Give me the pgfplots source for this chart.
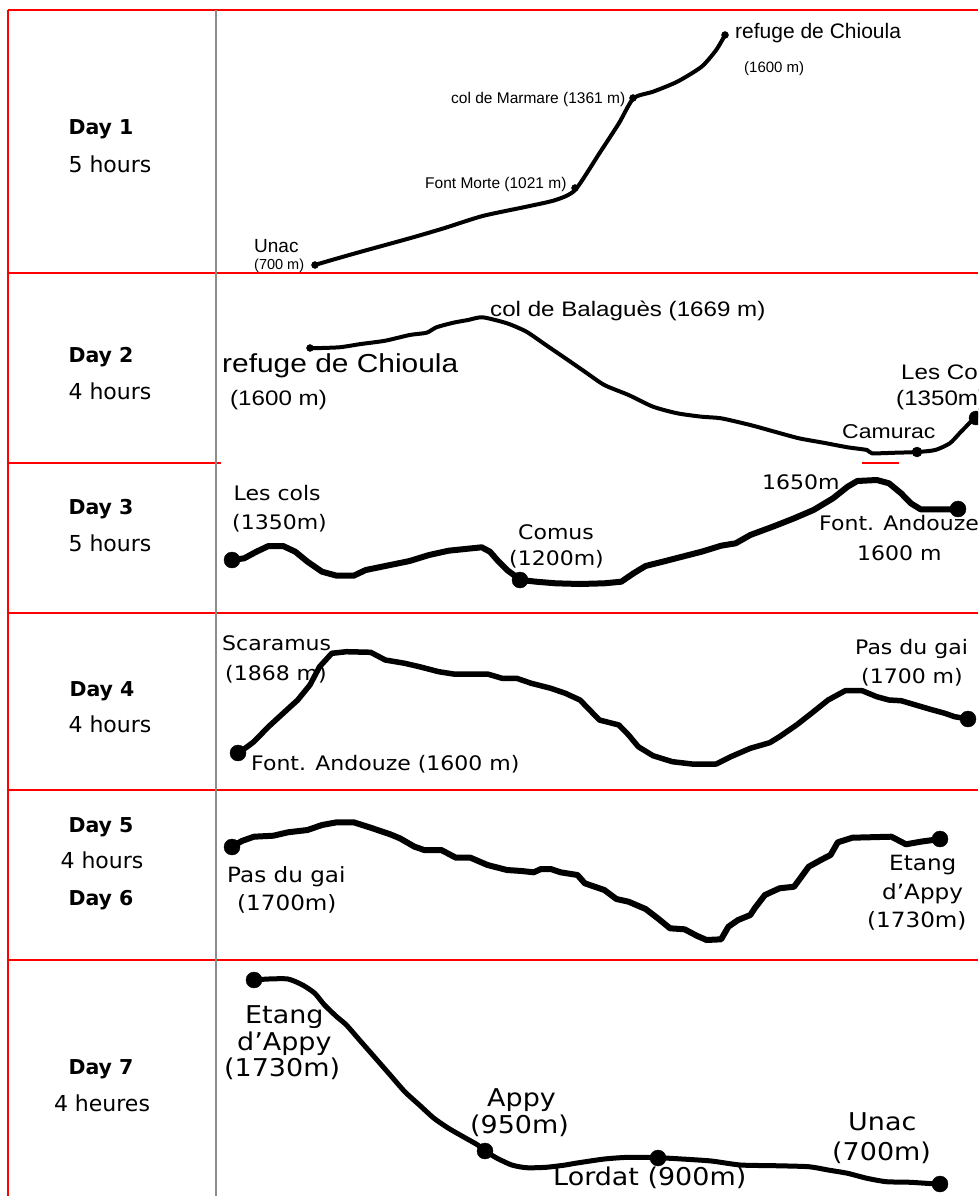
\documentclass[border=0pt]{standalone}
\usepackage{fontspec}
\setmainfont{DejaVu Sans}
\newfontfamily\lab[FakeStretch=1.1]{DejaVu Sans}
\newfontfamily\arl{Liberation Sans}
\newfontfamily\arlw[FakeStretch=1.15]{Liberation Sans}
\usepackage{pgfplots}
\pgfplotsset{compat=1.18}
\newcommand\fs[1]{\fontsize{#1}{#1}\selectfont}

\begin{document}
\begin{tikzpicture}
\useasboundingbox (0,0) rectangle (978pt,1196pt);
\clip (0,0) rectangle (978pt,1196pt);
\begin{axis}[at={(0,0)}, anchor=south west, scale only axis,
    width=978pt, height=1196pt,
    xmin=0, xmax=978, ymin=0, ymax=1196, y dir=reverse,
    hide axis, clip=false,
    every axis plot/.append style={black, line join=round, line cap=round},
    nodes={inner sep=0pt}]

% table rules
\draw[red, line width=1.6pt] (8,10) -- (978,10);
\draw[red, line width=1.6pt] (8,10) -- (8,1196);
\draw[red, line width=1.6pt] (8,273) -- (978,273);
\draw[red, line width=1.6pt] (8,463) -- (221,463);
\draw[red, line width=1.6pt] (862,463) -- (899,463);
\draw[red, line width=1.6pt] (8,613) -- (978,613);
\draw[red, line width=1.6pt] (8,790) -- (978,790);
\draw[red, line width=1.6pt] (8,960) -- (978,960);
\draw[black!45, line width=1.6pt] (216,10) -- (216,1196);

% left column
\node[anchor=base, font=\fs{20.5}\bfseries] at (101,135) {Day 1};
\node[anchor=base, font=\fs{22}] at (110,172) {5 hours};
\node[anchor=base, font=\fs{20.5}\bfseries] at (101,362) {Day 2};
\node[anchor=base, font=\fs{22}] at (110,399) {4 hours};
\node[anchor=base, font=\fs{20.5}\bfseries] at (101,514) {Day 3};
\node[anchor=base, font=\fs{22}] at (110,551) {5 hours};
\node[anchor=base, font=\fs{20.5}\bfseries] at (102,696) {Day 4};
\node[anchor=base, font=\fs{22}] at (110,732) {4 hours};
\node[anchor=base, font=\fs{20.5}\bfseries] at (101,832) {Day 5};
\node[anchor=base, font=\fs{22}] at (102,868) {4 hours};
\node[anchor=base, font=\fs{20.5}\bfseries] at (101,905) {Day 6};
\node[anchor=base, font=\fs{20.5}\bfseries] at (101,1074) {Day 7};
\node[anchor=base, font=\fs{22}] at (102,1111) {4 heures};

% Day 1
\addplot[line width=4pt, smooth, tension=0.4] coordinates {
(314.8,265) (331.8,260) (361,251.7) (409.6,238.3) (443.7,228.3) (482.6,216)
(526.4,206.7) (555.6,200) (575.1,190) (599.4,153.3) (618.9,123.3) (633.5,98.3)
(653,91.7) (677.3,81.7) (701.6,66.7) (716.2,50) (725,35)};
\addplot[only marks, mark=*, mark size=3.5pt] coordinates {(315,265) (575,188) (633,98) (725,35)};
\node[anchor=base west, font=\arl\fs{21}] at (735,38.5) {refuge de Chioula};
\node[anchor=base west, font=\arl\fs{15}] at (744,73) {(1600 m)};
\node[anchor=base west, font=\arl\fs{15.5}] at (451,103.5) {col de Marmare (1361 m)};
\node[anchor=base west, font=\arl\fs{15.5}] at (425,188.5) {Font Morte (1021 m)};
\node[anchor=base west, font=\arl\fs{19}] at (254,252) {Unac};
\node[anchor=base west, font=\arl\fs{14.5}] at (254,269) {(700 m)};

% Day 2
\addplot[line width=4pt, smooth, tension=0.4] coordinates {
(309.9,348.3) (339.1,347.3) (361,344) (385.3,340.7) (409.6,335) (426.7,332.7)
(436.4,327.3) (453.4,322.7) (468,320) (482.6,317.3) (507,323.3) (526.4,331.7)
(545.9,345) (565.4,358.3) (584.8,371.7) (604.3,385) (628.6,395) (653,406.7)
(677.3,413.3) (701.6,416.7) (721.1,418.3) (750.3,425) (774.6,431.7) (799,438.3)
(823.3,442.7) (847.6,447.3) (867,450) (872,453.3) (896.2,452.7) (917.2,452)
(935.2,450) (949.8,443.3) (959.5,433.3) (969.2,423.3) (978,415)};
\addplot[only marks, mark=*, mark size=3.5pt] coordinates {(310,348)};
\addplot[only marks, mark=*, mark size=5pt] coordinates {(917,452)};
\addplot[only marks, mark=*, mark size=7pt] coordinates {(976,418)};
\node[anchor=base west, font=\arlw\fs{21}] at (490,316.5) {col de Balaguès (1669 m)};
\node[anchor=base west, font=\arlw\fs{26}] at (222,372) {refuge de Chioula};
\node[anchor=base west, font=\arlw\fs{21}] at (230,405.5) {(1600 m)};
\node[anchor=base west, font=\arlw\fs{21}] at (901,379.5) {Les Cols};
\node[anchor=base west, font=\arlw\fs{21}] at (896,405.5) {(1350m)};
\node[anchor=base west, font=\arlw\fs{20}] at (842,438) {Camurac};

% Day 3
\addplot[line width=6pt] coordinates {
(232,560) (244.2,558.3) (256.4,551.7) (268.5,546) (283.1,546) (295.3,551.7)
(307.5,561.7) (322,571.7) (336.7,575.7) (353.7,575.7) (365.8,570) (385.3,566)
(409.6,561) (429.1,555) (448.6,550.7) (468,548.7) (481.7,547.3) (490,551.7)
(497.2,560) (507,570) (520.6,580) (536.2,581.7) (555.6,583.3) (580,584)
(604.3,583.3) (621.3,581.7) (633.5,573.3) (645.6,566) (662.7,561.7) (682.1,556.7)
(701.6,551.7) (721.1,545.7) (735.7,543.3) (750.3,535) (774.6,526) (794.1,518.3)
(813.5,510) (833,498.3) (847.6,486.7) (857.3,481) (876.8,480) (889,483.3)
(901.1,493.3) (910.8,503.3) (920.6,509.3) (940,509.3) (958.5,509.3)};
\addplot[only marks, mark=*, mark size=8pt] coordinates {(232,560) (520,580) (958,509)};
\node[anchor=base west, font=\lab\fs{20}] at (233.5,500.5) {Les cols};
\node[anchor=base west, font=\lab\fs{20}] at (232,529.5) {(1350m)};
\node[anchor=base west, font=\lab\fs{20}] at (518,539.5) {Comus};
\node[anchor=base west, font=\lab\fs{20}] at (509,565.5) {(1200m)};
\node[anchor=base west, font=\lab\fs{20}] at (762,489.5) {1650m};
\node[anchor=base west, font=\lab\fs{20}] at (819,530.5) {Font. Andouze};
\node[anchor=base west, font=\lab\fs{20}] at (857,560.5) {1600 m};

% Day 4
\addplot[line width=5.5pt] coordinates {
(238.4,753.3) (253.9,741.7) (268.5,726.7) (283.1,713.3) (297.7,700) (309.9,685)
(319.6,666.7) (331.8,653.3) (346.4,651.7) (370.7,652.3) (385.3,660) (404.8,663.3)
(419.4,666.7) (438.8,671.7) (453.4,674) (487.5,674) (502.1,678.3) (516.7,678.3)
(531.3,683.3) (550.8,688.3) (565.4,693.3) (580,700) (589.7,710) (599.4,720)
(618.9,725) (628.6,735) (638.3,746.7) (653,755.7) (672.4,761.7) (691.9,764)
(716.2,764) (730.8,756.7) (750.3,748.3) (769.7,742.7) (779.5,736.7) (796.5,725)
(813.5,711.7) (828.1,700) (845.2,690.7) (862.2,690.7) (876.8,696.7) (889,700)
(901.1,700.7) (915.7,705) (930.3,709.3) (944.9,713.3) (954.6,716.7) (968.3,719)};
\addplot[only marks, mark=*, mark size=8pt] coordinates {(238,753) (968,719)};
\node[anchor=base west, font=\lab\fs{20}] at (222,650.5) {Scaramus};
\node[anchor=base west, font=\lab\fs{20}] at (225,680.5) {(1868 m)};
\node[anchor=base west, font=\lab\fs{20}] at (251,770.5) {Font. Andouze (1600 m)};
\node[anchor=base west, font=\lab\fs{20}] at (855,654.5) {Pas du gai};
\node[anchor=base west, font=\lab\fs{20}] at (861,683.5) {(1700 m)};

% Day 5 / 6
\addplot[line width=6pt] coordinates {
(232,846.7) (241.8,841) (253.9,836.7) (273.4,835.7) (288,832.3) (307.5,830)
(322,825) (336.7,822.3) (353.7,822.3) (370.7,827.7) (390.2,834.3) (399.9,838.3)
(414.5,846.7) (424.2,850) (441.3,850) (455.9,857.7) (470.5,857.7) (487.5,865)
(507,870) (521.6,871) (533.7,872.3) (541,869) (550.8,869) (560.5,872.3)
(577.5,875) (584.8,883.3) (604.3,890) (616.4,899) (628.6,901.7) (645.6,909)
(657.8,918.3) (670,928.3) (684.6,929.3) (696.7,935.7) (706.5,940) (721.1,939.3)
(728.4,926.7) (738.1,920) (750.3,915) (755.1,907.7) (764.9,895) (779.5,888.3)
(794.1,886.7) (801.4,876.7) (808.7,866.7) (820.8,860) (830.5,855) (837.8,842.3)
(852.4,837.7) (891.4,836.7) (906,844.3) (920.6,841.7) (940,839)};
\addplot[only marks, mark=*, mark size=8pt] coordinates {(232,847) (940,839)};
\node[anchor=base west, font=\lab\fs{21}] at (227,882.5) {Pas du gai};
\node[anchor=base west, font=\lab\fs{21}] at (237,910.5) {(1700m)};
\node[anchor=base west, font=\lab\fs{21}] at (889,870.5) {Etang};
\node[anchor=base west, font=\lab\fs{21}] at (882,899.5) {d’Appy};
\node[anchor=base west, font=\lab\fs{21}] at (867,927.5) {(1730m)};

% Day 7
\addplot[line width=5pt, smooth, tension=0.4] coordinates {
(253.9,980) (268.5,979) (288,979) (302.6,985) (314.8,993.3) (324.5,1005)
(336.7,1016.7) (346.4,1025) (361,1041.7) (375.6,1058.3) (390.2,1075) (404.8,1091.7)
(419.4,1105) (434,1118.3) (448.6,1128.3) (463.2,1136.7) (477.8,1145) (485.1,1151)
(497.2,1158.3) (511.8,1165) (526.4,1167.7) (545.9,1167.3) (565.4,1165) (575.1,1163.3)
(604.3,1159) (628.6,1157.3) (657.8,1157.7) (682.1,1159) (711.3,1161) (740.5,1165)
(774.6,1165.7) (808.7,1166.7) (828.1,1170) (847.6,1173.3) (867,1178.3) (886.5,1181.7)
(910.8,1182.3) (940,1184.3)};
\addplot[only marks, mark=*, mark size=8pt] coordinates {(254,980) (485,1151) (658,1158) (940,1184)};
\node[anchor=base west, font=\lab\fs{24.5}] at (245,1023.5) {Etang};
\node[anchor=base west, font=\lab\fs{24.5}] at (237,1050.5) {d’Appy};
\node[anchor=base west, font=\lab\fs{24.5}] at (224,1076.5) {(1730m)};
\node[anchor=base west, font=\lab\fs{24.5}] at (487,1106.5) {Appy};
\node[anchor=base west, font=\lab\fs{24.5}] at (470,1133.5) {(950m)};
\node[anchor=base west, font=\lab\fs{24.5}] at (553,1185.5) {Lordat (900m)};
\node[anchor=base west, font=\lab\fs{24.5}] at (848,1130.5) {Unac};
\node[anchor=base west, font=\lab\fs{24.5}] at (832,1160.5) {(700m)};
\end{axis}
\end{tikzpicture}
\end{document}
